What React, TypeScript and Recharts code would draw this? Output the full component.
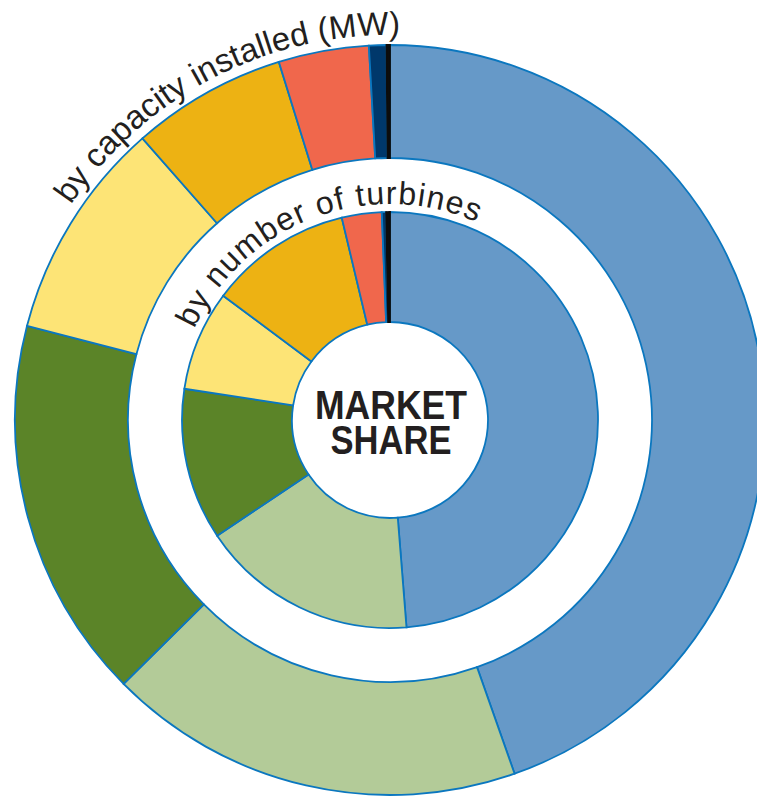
import { Cell, Pie, PieChart } from 'recharts';

const W = 757;
const H = 796;
const CX = 390;
const CY = 420;

// clockwise from 12 o'clock
const makers = ['A', 'B', 'C', 'D', 'E', 'F', 'G', ''];
const colors = ['#6699c8', '#b3cb98', '#5b8428', '#fde476', '#edb213', '#f0674c', '#00386b', '#0d0d0d'];

// percent shares, last value is the thin black divider at the top
const capacityShare = [44.7, 18.0, 16.5, 9.5, 6.7, 3.9, 0.75, 0.15];
const turbineShare = [48.8, 16.9, 11.8, 7.8, 11.1, 3.1, 0.33, 0.3];

const outerTitle = 'by capacity installed (MW)';
const innerTitle = 'by number of turbines';
const centerLines = ['MARKET', 'SHARE'];

const STROKE = '#0b77bf';
const INK = '#231f20';

const capacityData = makers.map((name, i) => ({ name, value: capacityShare[i] }));
const turbineData = makers.map((name, i) => ({ name, value: turbineShare[i] }));

// arc path for textPath, angles in degrees clockwise from top
function arcPath(r: number, from: number, to: number): string {
  const end = to < from ? to + 360 : to;
  const pt = (a: number) => {
    const rad = (a * Math.PI) / 180;
    return [CX + r * Math.sin(rad), CY - r * Math.cos(rad)];
  };
  const [x0, y0] = pt(from);
  const [x1, y1] = pt(end);
  const large = end - from > 180 ? 1 : 0;
  return `M ${x0} ${y0} A ${r} ${r} 0 ${large} 1 ${x1} ${y1}`;
}

export default function App() {
  return (
    <div style={{ position: 'absolute', left: 0, top: 0, width: W, height: H, background: '#fff' }}>
      <PieChart width={W} height={H} margin={{ top: 0, right: 0, bottom: 0, left: 0 }}>
        <Pie
          data={capacityData}
          dataKey="value"
          cx={CX}
          cy={CY}
          innerRadius={262}
          outerRadius={375}
          startAngle={90}
          endAngle={-270}
          stroke={STROKE}
          strokeWidth={1.8}
          isAnimationActive={false}
        >
          {capacityData.map((d, i) => (
            <Cell key={i} fill={colors[i]} stroke={d.name ? STROKE : colors[i]} />
          ))}
        </Pie>
        <Pie
          data={turbineData}
          dataKey="value"
          cx={CX}
          cy={CY}
          innerRadius={98}
          outerRadius={208}
          startAngle={90}
          endAngle={-270}
          stroke={STROKE}
          strokeWidth={1.8}
          isAnimationActive={false}
        >
          {turbineData.map((d, i) => (
            <Cell key={i} fill={colors[i]} stroke={d.name ? STROKE : colors[i]} />
          ))}
        </Pie>
      </PieChart>

      <svg
        width={W}
        height={H}
        style={{ position: 'absolute', left: 0, top: 0, pointerEvents: 'none' }}
      >
        <defs>
          <path id="outerArc" d={arcPath(385, 304, 30)} />
          <path id="innerArc" d={arcPath(216, 295, 60)} />
        </defs>
        <text
          fontFamily="'Liberation Sans', Arial, sans-serif"
          fontSize={33}
          fill={INK}
          textLength={386}
          lengthAdjust="spacing"
        >
          <textPath href="#outerArc">{outerTitle}</textPath>
        </text>
        <text
          fontFamily="'Liberation Sans', Arial, sans-serif"
          fontSize={32}
          fill={INK}
          textLength={334}
          lengthAdjust="spacing"
        >
          <textPath href="#innerArc">{innerTitle}</textPath>
        </text>
        <text
          x={391}
          y={419}
          textAnchor="middle"
          fontFamily="'Liberation Sans', Arial, sans-serif"
          fontWeight="bold"
          fontSize={41}
          fill={INK}
          textLength={152}
          lengthAdjust="spacingAndGlyphs"
        >
          {centerLines[0]}
        </text>
        <text
          x={391}
          y={454}
          textAnchor="middle"
          fontFamily="'Liberation Sans', Arial, sans-serif"
          fontWeight="bold"
          fontSize={41}
          fill={INK}
          textLength={121}
          lengthAdjust="spacingAndGlyphs"
        >
          {centerLines[1]}
        </text>
      </svg>
    </div>
  );
}
